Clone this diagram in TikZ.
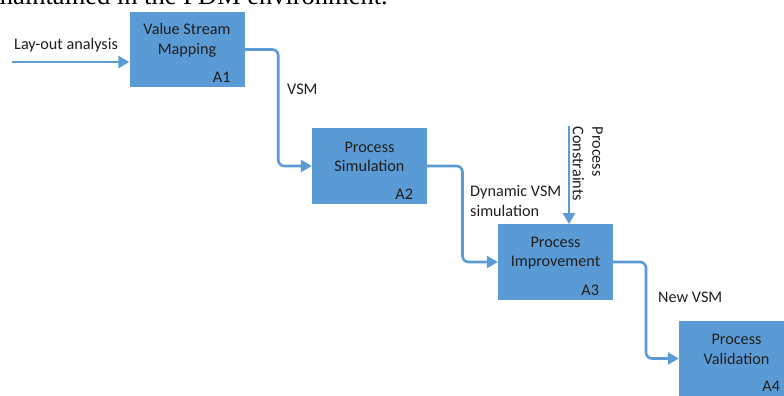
\documentclass[tikz,border=0pt]{standalone}
\usepackage{fontspec}
\setmainfont{Carlito}
\newfontfamily\serifcut{Liberation Serif}
\usetikzlibrary{arrows.meta,calc}

\definecolor{idefblue}{HTML}{5B9BD5}
\definecolor{idefink}{HTML}{1E1E1E}

\tikzset{
  box/.style={fill=idefblue, minimum width=115pt, minimum height=75.5pt, inner sep=0pt},
  boxtext/.style={align=center, text=idefink, inner sep=0pt},
  tag/.style={anchor=base east, text=idefink, inner sep=0pt},
  flow/.style={idefblue, line width=2.6pt, rounded corners=6pt,
    -{Triangle[length=11pt,width=12pt]}},
  lbl/.style={text=idefink, inner sep=0pt}
}

\begin{document}
\begin{tikzpicture}[x=1pt, y=-1pt, font=\fontsize{16.2}{19.5}\selectfont]
        \clip (0,0) rectangle (784,396);

        % Cut off line of the page above
        \node[anchor=base east, inner sep=0pt, font=\serifcut\fontsize{26.5}{30}\selectfont] (pagetext) at (388,4.7) {maintained in the PDM environment.};

        % Activity boxes
        \foreach \n/\x/\y/\t/\a in {a1/187/49.5/{Value Stream\\Mapping}/A1,
                                   a2/369.5/166/{Process\\Simulation}/A2,
                                   a3/555.5/262/{Process\\Improvement}/A3,
                                   a4/736.5/358.5/{Process\\Validation}/A4} {
            \node[box] (\n) at (\x,\y) {};
            \node[boxtext] (\n text) at ([yshift=9pt]\n.center) {\t};
            \node[tag] (\n tag) at ([xshift=-14pt, yshift=4.5pt]\n.south east) {\a};
        }

        % Input and control
        \coordinate (in) at (12,62);
        \draw[flow] (in) -- (a1.west |- in);
        \node[lbl, anchor=base west] (inlabel) at (14,49.5) {Lay-out analysis};

        \coordinate (ctrl) at (569,126);
        \draw[flow] (ctrl) -- (a3.north -| ctrl);
        \node[lbl, rotate=-90, anchor=north west, align=left] (ctrllabel) at (603,126.5) {Process\\Constraints};

        % Outputs between the activities
        \draw[flow] (a1.east) -| ($(a1.east)!0.5!(a2.west)$) |- (a2.west);
        \node[lbl, anchor=base west] (vsm) at (287,94) {VSM};

        \draw[flow] (a2.east) -| ($(a2.east)!0.5!(a3.west)$) |- (a3.west);
        \node[lbl, anchor=west, align=left] (dynvsm) at (470,201) {Dynamic VSM\\simulation};

        \draw[flow] (a3.east) -| ($(a3.east)!0.5!(a4.west)$) |- (a4.west);
        \node[lbl, anchor=base west] (newvsm) at (658,302) {New VSM};
\end{tikzpicture}
\end{document}
